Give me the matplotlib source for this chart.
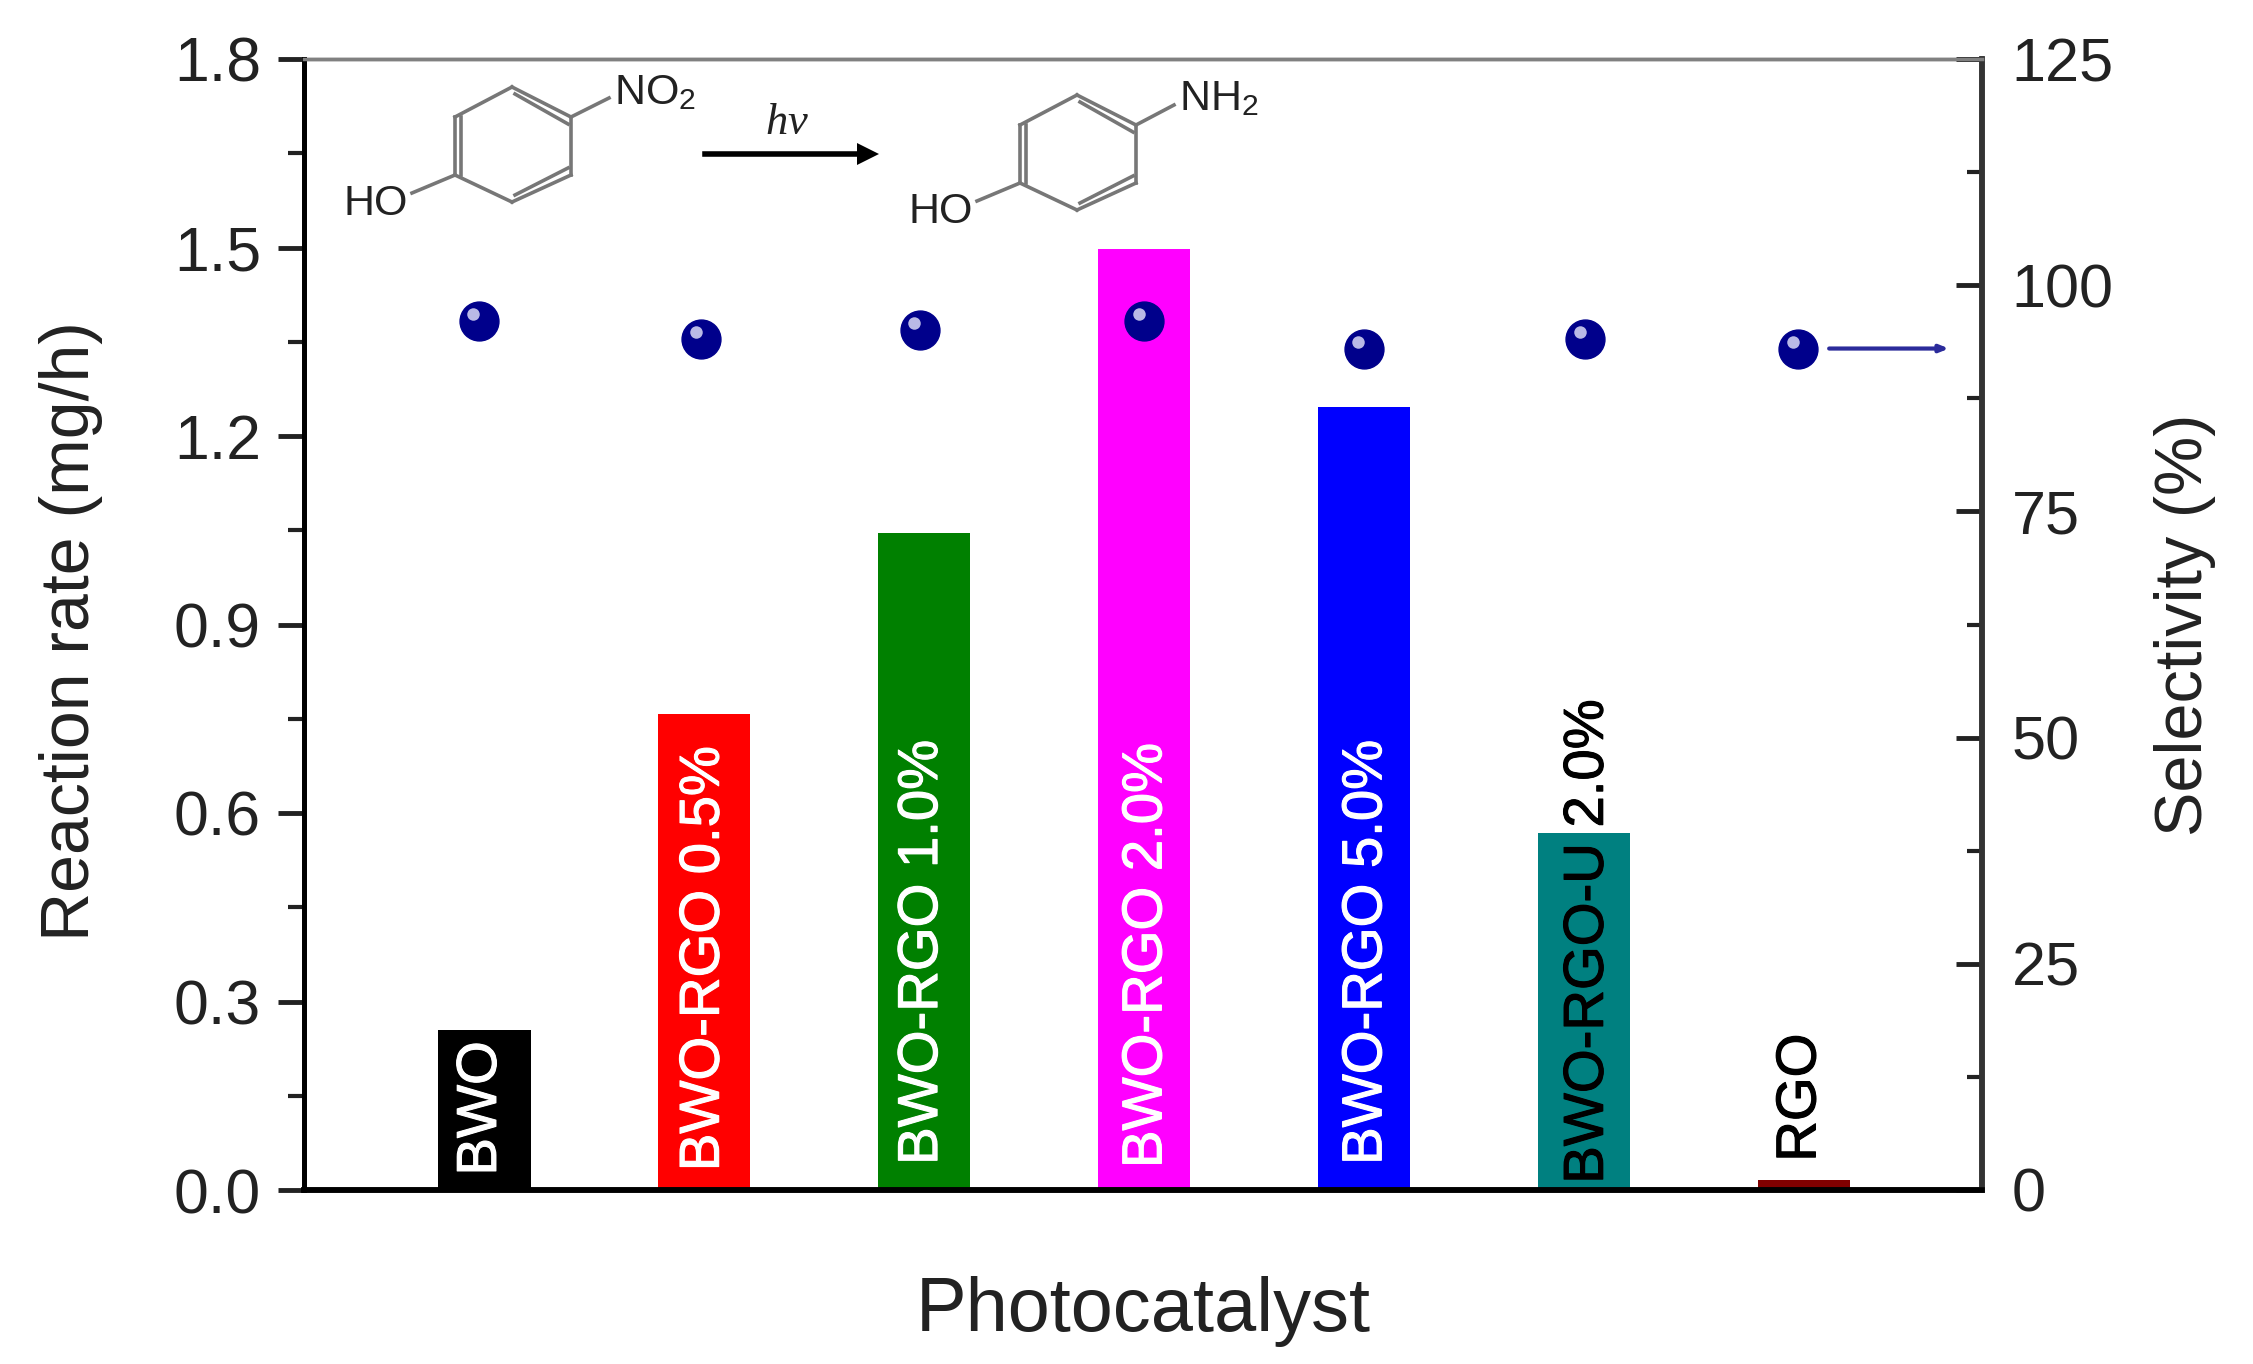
import matplotlib
matplotlib.use("Agg")
import numpy as np
import matplotlib.pyplot as plt
import matplotlib.patheffects as pe
from matplotlib.lines import Line2D
from matplotlib.ticker import MultipleLocator
from matplotlib.transforms import offset_copy

plt.rcParams["font.family"] = ["Liberation Sans", "DejaVu Sans"]
plt.rcParams["mathtext.fontset"] = "custom"
plt.rcParams["mathtext.rm"] = "Liberation Sans"
plt.rcParams["mathtext.it"] = "Liberation Serif:italic"

# bars
labels = ["BWO", "BWO-RGO 0.5%", "BWO-RGO 1.0%", "BWO-RGO 2.0%", "BWO-RGO 5.0%", "BWO-RGO-U 2.0%", "RGO"]
rate = [0.254, 0.758, 1.046, 1.497, 1.246, 0.568, 0.016]
bar_colors = ["#000000", "#ff0000", "#008000", "#ff00ff", "#0000ff", "#008080", "#800000"]
label_colors = ["white", "white", "white", "white", "white", "black", "black"]
label_base = [0.023, 0.03, 0.04, 0.035, 0.04, 0.01, 0.045]

# selectivity points
sel_x = [0.974, 1.987, 2.98, 4.0, 5.0, 6.007, 6.974]
selectivity = [96.0, 94.1, 95.1, 96.0, 93.0, 94.1, 93.0]

W, H = 2253, 1364
TEXT = "#222222"
fig = plt.figure(figsize=(W / 100, H / 100), dpi=100)
ax = fig.add_axes([304 / W, 1 - 1190 / H, (1982 - 304) / W, (1190 - 59) / H])

x = np.arange(1, len(rate) + 1)
ax.bar(x, rate, width=0.42, color=bar_colors, linewidth=0)
for i in range(len(x)):
    t = ax.text(sel_x[i] + 0.015, label_base[i], labels[i], rotation=90, ha="center", va="bottom",
                color=label_colors[i], fontsize=40.5)
    t.set_path_effects([pe.withStroke(linewidth=0.8, foreground=label_colors[i])])

ax.set_xlim(0.18, 7.81)
ax.set_ylim(0, 1.8)
ax.set_xticks([])
ax.yaxis.set_major_locator(MultipleLocator(0.3))
ax.yaxis.set_minor_locator(MultipleLocator(0.15))
ax.tick_params(axis="y", which="major", direction="out", length=19, width=3.5, labelsize=45, pad=12, colors=TEXT)
ax.tick_params(axis="y", which="minor", direction="out", length=11.5, width=3, colors=TEXT)
ax.set_ylabel("Reaction rate (mg/h)", fontsize=49, color=TEXT)
ax.yaxis.set_label_coords(-0.1198, 0.494)
ax.set_xlabel("Photocatalyst", fontsize=54.5, color=TEXT, labelpad=62)

ax2 = ax.twinx()
ax2.set_ylim(0, 125)
ax2.yaxis.set_major_locator(MultipleLocator(25))
ax2.yaxis.set_minor_locator(MultipleLocator(12.5))
ax2.tick_params(axis="y", which="major", direction="in", length=19, width=3.5, labelsize=44, pad=21.5, colors=TEXT)
ax2.tick_params(axis="y", which="minor", direction="in", length=11, width=3, colors=TEXT)
ax2.set_ylabel("Selectivity (%)", fontsize=48, color=TEXT)
ax2.yaxis.set_label_coords(1.1025, 0.5)

ax2.plot(sel_x, selectivity, ls="none", marker="o", ms=28, mfc="#00008b", mec="#00008b")
glint = offset_copy(ax2.transData, fig=fig, x=-4, y=5, units="points")
ax2.plot(sel_x, selectivity, ls="none", marker="o", ms=9, mfc="#b9b9e6", mec="none", transform=glint)
ax2.annotate("", xy=(7.66, selectivity[-1]), xytext=(7.115, selectivity[-1]),
             arrowprops=dict(arrowstyle="-|>,head_length=0.5,head_width=0.2", color="#2b2b9b", lw=3,
                             shrinkA=0, shrinkB=0))

for s in [ax, ax2]:
    s.spines["left"].set_linewidth(3.5)
    s.spines["bottom"].set_linewidth(4)
    s.spines["right"].set_linewidth(4)
    s.spines["right"].set_color("#333333")
    s.spines["top"].set_linewidth(2.5)
    s.spines["top"].set_color("#808080")


# reaction scheme, placed in pixels of the full figure
def fx(p):
    return p / W


def fy(p):
    return 1 - p / H


def bond(x0, y0, x1, y1, lw=2.6, color="#777777"):
    fig.add_artist(Line2D([fx(x0), fx(x1)], [fy(y0), fy(y1)], lw=lw, color=color, zorder=5))


def ring(ox, oy, sub, sub_dx, sub_dy, sub_end):
    xl, xm, xr = ox, ox + 57, ox + 116
    y0, y1, y2, y3 = oy, oy + 30, oy + 88, oy + 115
    bond(xm, y0, xr, y1)
    bond(xm + 3, y0 + 7, xr - 3, y1 + 7)
    bond(xr, y1, xr, y2)
    bond(xr, y2, xm, y3)
    bond(xr - 3, y2 - 7, xm + 3, y3 - 7)
    bond(xm, y3, xl, y2)
    bond(xl, y2, xl, y1)
    bond(xl + 6, y2, xl + 6, y1)
    bond(xl, y1, xm, y0)
    bond(xr, y1, sub_end[0], sub_end[1])
    bond(xl, y2, xl - 43, y2 + 18)
    fig.text(fx(xr + sub_dx), fy(oy + sub_dy), sub, fontsize=31, color=TEXT, ha="left", va="center", zorder=6)
    fig.text(fx(xl - 47), fy(y2 + 29), "HO", fontsize=31, color=TEXT, ha="right", va="center", zorder=6)


ring(455, 87, r"NO$_{\mathrm{2}}$", 43, 6, (609, 98))
ring(1020, 95, r"NH$_{\mathrm{2}}$", 43, 4, (1174, 105))
fig.text(fx(787), fy(122), r"$hv$", fontsize=32, color=TEXT, ha="center", va="center", zorder=6)
fig.add_artist(Line2D([fx(705), fx(857)], [fy(154), fy(154)], lw=4, color="black", zorder=5))
fig.add_artist(Line2D([fx(868)], [fy(154)], marker=">", ms=16, color="black", mew=0, zorder=5))

fig.savefig("out.png", dpi=100, facecolor="white")
